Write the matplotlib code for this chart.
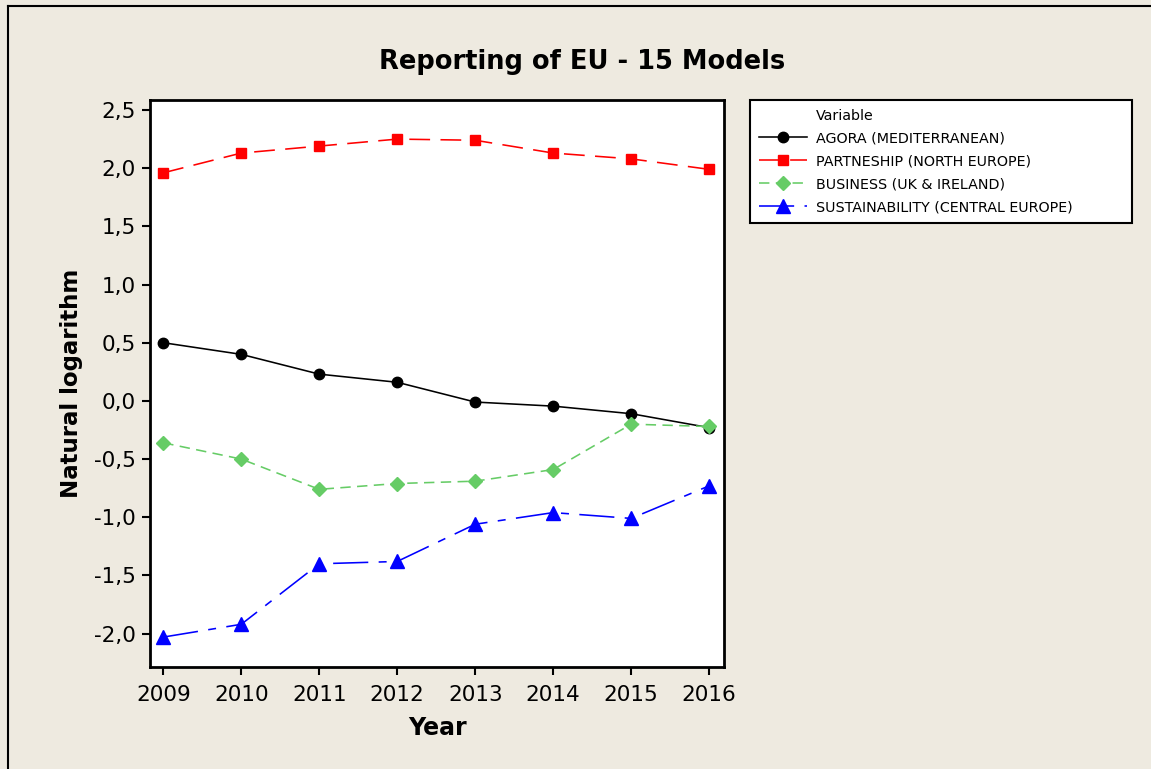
import matplotlib
matplotlib.use("Agg")
import matplotlib.pyplot as plt
from matplotlib.lines import Line2D

years = [2009, 2010, 2011, 2012, 2013, 2014, 2015, 2016]
agora = [0.50, 0.40, 0.23, 0.16, -0.01, -0.045, -0.11, -0.23]
partnership = [1.96, 2.13, 2.19, 2.25, 2.24, 2.13, 2.08, 1.99]
business = [-0.36, -0.50, -0.76, -0.71, -0.69, -0.59, -0.20, -0.22]
sustainability = [-2.03, -1.92, -1.40, -1.38, -1.06, -0.96, -1.01, -0.73]

series_labels = ["AGORA (MEDITERRANEAN)", "PARTNESHIP (NORTH EUROPE)",
                 "BUSINESS (UK & IRELAND)", "SUSTAINABILITY (CENTRAL EUROPE)"]
yticks = [-2.0, -1.5, -1.0, -0.5, 0.0, 0.5, 1.0, 1.5, 2.0, 2.5]
ytick_labels = ["-2,0", "-1,5", "-1,0", "-0,5", "0,0", "0,5", "1,0", "1,5", "2,0", "2,5"]

W, H = 1151, 769
bg = "#EEEAE0"
fig = plt.figure(figsize=(W / 100, H / 100), dpi=100, facecolor=bg)
plt.rcParams['font.family'] = ['DejaVu Sans']

# outer border lines (left and top)
fig.add_artist(Line2D([8 / W, 8 / W], [0, 1 - 6 / H], color="black", lw=1.5,
                      transform=fig.transFigure))
fig.add_artist(Line2D([8 / W, 1], [1 - 6 / H, 1 - 6 / H], color="black", lw=1.5,
                      transform=fig.transFigure))

ax_l, ax_r, ax_t, ax_b = 150, 724, 100, 667
ax = fig.add_axes([ax_l / W, 1 - ax_b / H, (ax_r - ax_l) / W, (ax_b - ax_t) / H])
ax.set_facecolor("white")

lw = 1.15
h0, = ax.plot(years, agora, color="black", lw=lw, marker="o", ms=7.5,
              label=series_labels[0])
h1, = ax.plot(years, partnership, color="#FF0000", lw=lw, ls=(0, (13, 6.5)),
              marker="s", ms=7.5, label=series_labels[1])
h2, = ax.plot(years, business, color="#66CC66", lw=lw, ls=(0, (6.5, 4)),
              marker="D", ms=7.5, label=series_labels[2])
h3, = ax.plot(years, sustainability, color="#0000FF", lw=lw, ls=(0, (22, 6.5, 5, 6.5)),
              marker="^", ms=9.5, label=series_labels[3])

ax.set_xlim(2008.83, 2016.19)
ax.set_ylim(-2.287, 2.586)
ax.set_xticks(years)
ax.set_xticklabels([str(y) for y in years])
ax.set_yticks(yticks)
ax.set_yticklabels(ytick_labels)
ax.tick_params(labelsize=15.5, length=6, width=1.5, color="black")
ax.tick_params(axis="x", pad=7)
ax.tick_params(axis="y", pad=4)
for s in ax.spines.values():
    s.set_linewidth(2)
    s.set_color("black")

ax.set_xlabel("Year", fontsize=17, fontweight="bold", labelpad=8)
ax.set_ylabel("Natural logarithm", fontsize=16.5, fontweight="bold", labelpad=8)
fig.text(582 / W, 1 - 62 / H, "Reporting of EU - 15 Models", fontsize=18.5,
         fontweight="bold", ha="center", va="center")

title_handle = Line2D([], [], color="none")
leg = fig.legend([title_handle, h0, h1, h2, h3], ["Variable"] + series_labels,
                 loc="upper left",
                 bbox_to_anchor=(750 / W, 1 - 221 / H, 382 / W, 121 / H),
                 mode="expand", borderaxespad=0,
                 fontsize=10.3, frameon=True, fancybox=False, edgecolor="black",
                 framealpha=1, borderpad=0.6, handlelength=3.4,
                 handletextpad=0.62, labelspacing=0.62)
leg.get_frame().set_linewidth(1.5)
leg.get_frame().set_facecolor("white")

fig.savefig("out.png", dpi=100, facecolor=bg)
